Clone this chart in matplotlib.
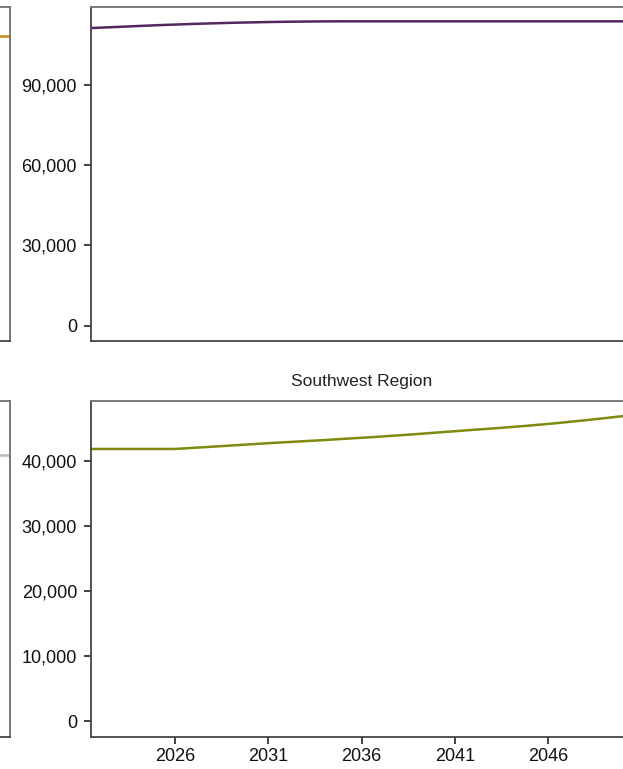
import matplotlib
matplotlib.use('Agg')
import matplotlib.pyplot as plt
from matplotlib.ticker import FuncFormatter

plt.rcParams['font.family'] = ['Liberation Sans Narrow', 'Liberation Sans', 'DejaVu Sans']

years = list(range(2021, 2051))

# top panel (title cut off above)
top_vals = [110900, 111200, 111500, 111800, 112100, 112350, 112600, 112800, 113000,
            113150, 113300, 113400, 113480, 113540, 113560, 113560, 113560, 113560,
            113560, 113560, 113560, 113560, 113560, 113560, 113560, 113560, 113560,
            113560, 113560, 113560]

# Southwest Region
sw_vals = [41850, 41850, 41850, 41850, 41850, 41850, 42030, 42200, 42380, 42560,
           42740, 42900, 43060, 43220, 43400, 43570, 43750, 43950, 44150, 44370,
           44580, 44800, 45000, 45220, 45450, 45700, 45980, 46270, 46580, 46900]

# neighbouring panels, only their right edge is visible
left_top_vals = [60000] * len(years)
left_bot_vals = [25800] * len(years)

xticks = [2026, 2031, 2036, 2041, 2046]

W, H = 623, 769
fig = plt.figure(figsize=(W / 100, H / 100), dpi=100)


def box(x0, y0, x1, y1):
    # pixel box -> figure fraction
    return [x0 / W, 1 - y1 / H, (x1 - x0) / W, (y1 - y0) / H]


def style(ax):
    for s in ax.spines.values():
        s.set_color('#707070')
        s.set_linewidth(1.3)
    ax.spines['left'].set_color('#444444')
    ax.spines['bottom'].set_color('#444444')
    ax.tick_params(direction='out', length=5, width=1.3, color='#333333',
                   labelsize=13, labelcolor='#111111')
    ax.tick_params(axis='y', pad=5)
    ax.tick_params(axis='x', pad=3)
    ax.yaxis.set_major_formatter(FuncFormatter(lambda v, p: f'{int(v):,}'))


ax1 = fig.add_axes(box(91, 7, 632, 341))
ax1.plot(years, top_vals, color='#532860', lw=1.8)
ax1.set_xlim(2021.5, 2050.5)
ax1.set_ylim(-5600, 118900)
ax1.set_yticks([0, 30000, 60000, 90000])
ax1.set_xticks([])
style(ax1)

ax2 = fig.add_axes(box(91, 401, 632, 737))
ax2.plot(years, sw_vals, color='#7F8A0F', lw=1.8)
ax2.set_xlim(2021.5, 2050.5)
ax2.set_ylim(-2460, 49230)
ax2.set_yticks([0, 10000, 20000, 30000, 40000])
ax2.set_xticks(xticks)
ax2.set_title('Southwest Region', fontsize=12.5, color='#222222', pad=11,
              family=['Liberation Sans', 'DejaVu Sans'])
style(ax2)

ax3 = fig.add_axes(box(-450, 7, 10, 341))
ax3.plot(years, left_top_vals, color='#C88A12', lw=1.8)
ax3.set_xlim(2021.5, 2050)
ax3.set_ylim(-3000, 66000)
ax3.set_xticks([])
ax3.set_yticks([])
style(ax3)

ax4 = fig.add_axes(box(-450, 401, 10, 737))
ax4.plot(years, left_bot_vals, color='#BBBBBB', lw=1.8)
ax4.set_xlim(2021.5, 2050)
ax4.set_ylim(-1500, 31000)
ax4.set_xticks([])
ax4.set_yticks([])
style(ax4)

plt.savefig('out.png', dpi=100)
